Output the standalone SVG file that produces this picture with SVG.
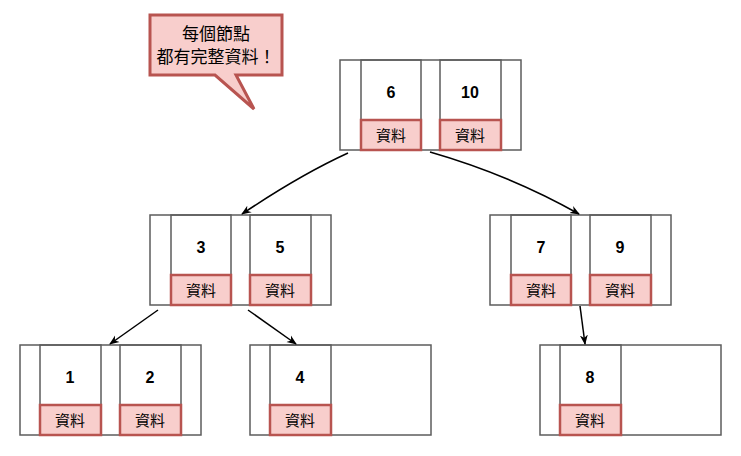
<svg xmlns="http://www.w3.org/2000/svg" width="741" height="456" viewBox="0 0 741 456">
<defs>
<style>
.box{fill:#ffffff;stroke:#5c5c5c;stroke-width:1.5}
.cell{fill:none;stroke:#5c5c5c;stroke-width:1.5}
.data{fill:#f8cecc;stroke:#b85450;stroke-width:2.5}
.num{font-family:"Liberation Sans","DejaVu Sans",sans-serif;font-weight:bold;font-size:16px;fill:#000;text-anchor:middle}
.lbl{font-family:"Liberation Sans","Noto Sans CJK TC",sans-serif;font-size:15px;fill:#000;text-anchor:middle}
.co{font-family:"Liberation Sans","Noto Sans CJK TC",sans-serif;font-size:17px;fill:#000;text-anchor:middle}
.edge{fill:none;stroke:#000;stroke-width:1.5;marker-end:url(#ah)}
</style>
<marker id="ah" viewBox="0 0 10 10" refX="9" refY="5" markerWidth="10" markerHeight="10" markerUnits="userSpaceOnUse" orient="auto">
<path d="M0,1 L10,5 L0,9 L3,5 Z" fill="#000"/>
</marker>
</defs>

<g id="callout">
<path d="M150,15 H282 V75 H236 L254,109 L215,75 H150 Z" fill="#f8cecc" stroke="#b85450" stroke-width="3" stroke-linejoin="miter"/>
<text class="co" x="216" y="40">每個節點</text>
<text class="co" x="216" y="63">都有完整資料！</text>
</g>

<g id="node-root">
<rect class="box" x="340" y="60" width="181" height="90"/>
<rect class="cell" x="361" y="60" width="60" height="90"/>
<rect class="cell" x="440" y="60" width="61" height="90"/>
<text class="num" x="391" y="98">6</text>
<text class="num" x="470" y="98">10</text>
<rect class="data" x="361" y="120" width="60" height="30"/>
<text class="lbl" x="391" y="141">資料</text>
<rect class="data" x="440" y="120" width="61" height="30"/>
<text class="lbl" x="470" y="141">資料</text>
</g>

<g id="node-3-5">
<rect class="box" x="150" y="215" width="181" height="90"/>
<rect class="cell" x="171" y="215" width="60" height="90"/>
<rect class="cell" x="250" y="215" width="61" height="90"/>
<text class="num" x="201" y="253">3</text>
<text class="num" x="280" y="253">5</text>
<rect class="data" x="171" y="275" width="60" height="30"/>
<text class="lbl" x="201" y="296">資料</text>
<rect class="data" x="250" y="275" width="61" height="30"/>
<text class="lbl" x="280" y="296">資料</text>
</g>

<g id="node-7-9">
<rect class="box" x="490" y="215" width="181" height="90"/>
<rect class="cell" x="511" y="215" width="60" height="90"/>
<rect class="cell" x="590" y="215" width="61" height="90"/>
<text class="num" x="541" y="253">7</text>
<text class="num" x="620" y="253">9</text>
<rect class="data" x="511" y="275" width="60" height="30"/>
<text class="lbl" x="541" y="296">資料</text>
<rect class="data" x="590" y="275" width="61" height="30"/>
<text class="lbl" x="620" y="296">資料</text>
</g>

<g id="node-1-2">
<rect class="box" x="20" y="345" width="181" height="90"/>
<rect class="cell" x="40" y="345" width="61" height="90"/>
<rect class="cell" x="120" y="345" width="61" height="90"/>
<text class="num" x="70" y="383">1</text>
<text class="num" x="150" y="383">2</text>
<rect class="data" x="40" y="405" width="61" height="30"/>
<text class="lbl" x="70" y="426">資料</text>
<rect class="data" x="120" y="405" width="61" height="30"/>
<text class="lbl" x="150" y="426">資料</text>
</g>

<g id="node-4">
<rect class="box" x="250" y="345" width="181" height="90"/>
<rect class="cell" x="270" y="345" width="61" height="90"/>
<text class="num" x="300" y="383">4</text>
<rect class="data" x="270" y="405" width="61" height="30"/>
<text class="lbl" x="300" y="426">資料</text>
</g>

<g id="node-8">
<rect class="box" x="540" y="345" width="181" height="90"/>
<rect class="cell" x="560" y="345" width="61" height="90"/>
<text class="num" x="590" y="383">8</text>
<rect class="data" x="560" y="405" width="61" height="30"/>
<text class="lbl" x="590" y="426">資料</text>
</g>

<g id="connectors">
<path class="edge" d="M348,153 Q300,175 242,214"/>
<path class="edge" d="M430,152 Q510,175 579,214"/>
<path class="edge" d="M158,310 L110,344"/>
<path class="edge" d="M248,310 L296,344"/>
<path class="edge" d="M580,306 L585,344"/>
</g>
</svg>
